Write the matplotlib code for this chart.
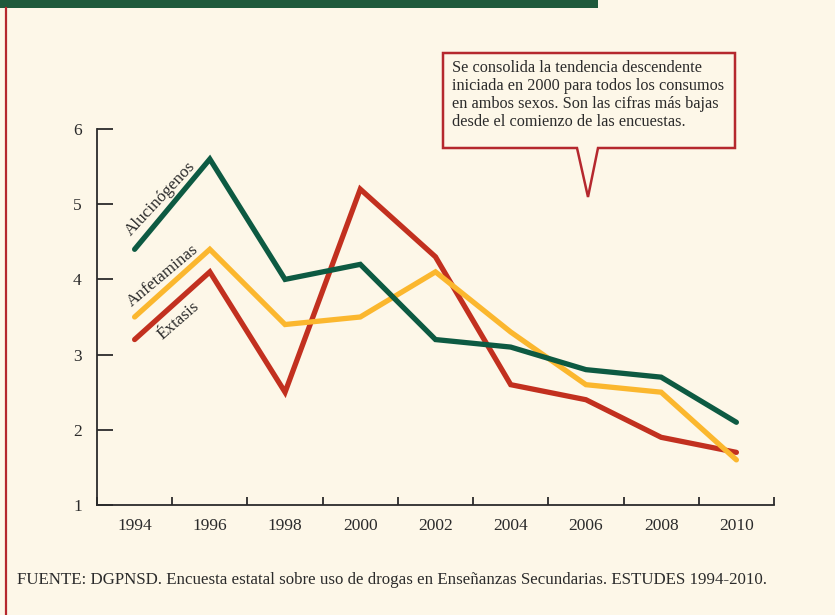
import matplotlib
matplotlib.use("Agg")
import matplotlib.pyplot as plt
from matplotlib.patches import Polygon, Rectangle
from matplotlib.lines import Line2D

plt.rcParams['font.family'] = ['Liberation Serif', 'DejaVu Serif']

years = ['1994', '1996', '1998', '2000', '2002', '2004', '2006', '2008', '2010']
alucinogenos = [4.4, 5.6, 4.0, 4.2, 3.2, 3.1, 2.8, 2.7, 2.1]
anfetaminas = [3.5, 4.4, 3.4, 3.5, 4.1, 3.3, 2.6, 2.5, 1.6]
extasis = [3.2, 4.1, 2.5, 5.2, 4.3, 2.6, 2.4, 1.9, 1.7]
yticks = [1, 2, 3, 4, 5, 6]

BG = '#FDF7E8'
GREEN = '#0D5A42'
YELLOW = '#FBB72E'
RED = '#C2301F'
BAR = '#1F5A3C'
BORDER = '#B5282E'
INK = '#2B2B2B'

W, H = 835, 615
fig = plt.figure(figsize=(W / 100, H / 100), dpi=100, facecolor=BG)

def fx(x):
    return x / W

def fy(y):
    return 1 - y / H

# decorative top bar and left rule
fig.add_artist(Rectangle((0, fy(8)), fx(598), 8 / H, transform=fig.transFigure,
                         facecolor=BAR, edgecolor='none'))
fig.add_artist(Line2D([fx(5.5), fx(5.5)], [0, fy(8)], transform=fig.transFigure,
                      color=BORDER, lw=1.6))

ax = fig.add_axes([fx(97), fy(505), fx(774 - 97), (505 - 129) / H])
ax.set_facecolor(BG)
x = list(range(len(years)))
ax.plot(x, extasis, color=RED, lw=3.8, solid_capstyle='round', solid_joinstyle='miter')
ax.plot(x, anfetaminas, color=YELLOW, lw=3.8, solid_capstyle='round', solid_joinstyle='miter')
ax.plot(x, alucinogenos, color=GREEN, lw=3.8, solid_capstyle='round', solid_joinstyle='miter')

ax.set_xlim(-0.5, len(years) - 0.5)
ax.set_ylim(1, 6)
for s in ['top', 'right']:
    ax.spines[s].set_visible(False)
for s in ['left', 'bottom']:
    ax.spines[s].set_color(INK)
    ax.spines[s].set_linewidth(1.3)

ax.set_yticks(yticks)
ax.set_yticklabels([str(v) for v in yticks])
ax.tick_params(axis='y', direction='in', length=11.5, width=1.3, color=INK,
               labelsize=12.5, labelcolor=INK, pad=11)
ax.set_xticks(x)
ax.set_xticklabels(years)
ax.tick_params(axis='x', which='major', length=0, labelsize=12.5, labelcolor=INK, pad=9)
ax.set_xticks([i - 0.5 for i in range(len(years) + 1)], minor=True)
ax.tick_params(axis='x', which='minor', direction='in', length=6, width=1.3, color=INK)

# series labels
ax.text(0.34, 5.07, 'Alucinógenos', rotation=47, ha='center', va='center',
        fontsize=12.3, color=INK, rotation_mode='anchor')
ax.text(0.37, 4.05, 'Anfetaminas', rotation=40, ha='center', va='center',
        fontsize=12.3, color=INK, rotation_mode='anchor')
ax.text(0.58, 3.45, 'Éxtasis', rotation=41, ha='center', va='center',
        fontsize=12.3, color=INK, rotation_mode='anchor')

# callout
pts = [(443, 53), (735, 53), (735, 148), (598, 148), (588, 197), (577, 148), (443, 148)]
fig.add_artist(Polygon([(fx(a), fy(b)) for a, b in pts], closed=True,
                       transform=fig.transFigure, facecolor=BG, edgecolor=BORDER,
                       lw=1.8, joinstyle='miter'))
fig.text(fx(452), fy(60),
         'Se consolida la tendencia descendente\n'
         'iniciada en 2000 para todos los consumos\n'
         'en ambos sexos. Son las cifras más bajas\n'
         'desde el comienzo de las encuestas.',
         ha='left', va='top', fontsize=11.7, color=INK, linespacing=1.18)

fig.text(fx(17), fy(580),
         'FUENTE: DGPNSD. Encuesta estatal sobre uso de drogas en Enseñanzas '
         'Secundarias. ESTUDES 1994-2010.',
         ha='left', va='center', fontsize=12.2, color=INK)

fig.savefig('out.png', dpi=100, facecolor=BG)
